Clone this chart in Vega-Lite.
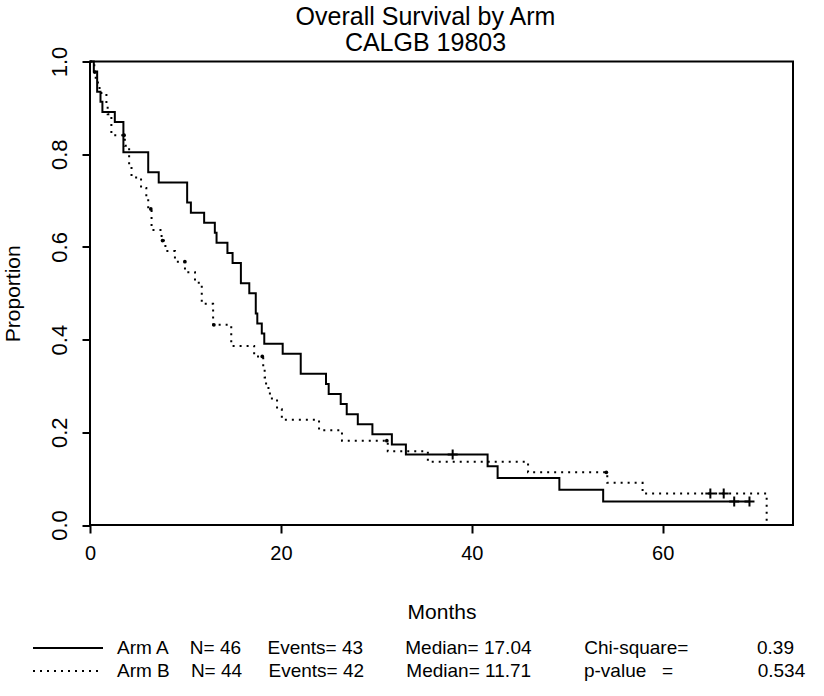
{
  "$schema": "https://vega.github.io/schema/vega-lite/v6.json",
  "width": 703,
  "height": 463.5,
  "autosize": {"type": "none"},
  "padding": {"left": 90, "top": 61.5, "right": 31, "bottom": 171},
  "background": "white",
  "config": {"view": {"stroke": "black", "strokeWidth": 2}, "font": "Liberation Sans"},
  "title": {
    "text": ["Overall Survival by Arm", "CALGB 19803"],
    "font": "Liberation Sans",
    "fontSize": 25,
    "fontWeight": "normal",
    "color": "black",
    "lineHeight": 26.7,
    "anchor": "middle",
    "baseline": "bottom",
    "offset": -35,
    "dx": -16
  },
  "datasets": {
    "curve": [
      {"arm": "Arm A", "t": 0, "s": 1},
      {"arm": "Arm A", "t": 0.4, "s": 0.9783},
      {"arm": "Arm A", "t": 0.75, "s": 0.9348},
      {"arm": "Arm A", "t": 1.1, "s": 0.913},
      {"arm": "Arm A", "t": 1.3, "s": 0.8913},
      {"arm": "Arm A", "t": 2.6, "s": 0.8696},
      {"arm": "Arm A", "t": 3.5, "s": 0.8043},
      {"arm": "Arm A", "t": 6.1, "s": 0.7609},
      {"arm": "Arm A", "t": 7.2, "s": 0.7391},
      {"arm": "Arm A", "t": 10.18, "s": 0.6957},
      {"arm": "Arm A", "t": 10.57, "s": 0.6739},
      {"arm": "Arm A", "t": 11.96, "s": 0.6522},
      {"arm": "Arm A", "t": 13.08, "s": 0.6304},
      {"arm": "Arm A", "t": 13.26, "s": 0.6087},
      {"arm": "Arm A", "t": 14.4, "s": 0.587},
      {"arm": "Arm A", "t": 14.94, "s": 0.5652},
      {"arm": "Arm A", "t": 15.81, "s": 0.5217},
      {"arm": "Arm A", "t": 16.69, "s": 0.5},
      {"arm": "Arm A", "t": 17.37, "s": 0.4565},
      {"arm": "Arm A", "t": 17.53, "s": 0.4348},
      {"arm": "Arm A", "t": 18.0, "s": 0.413},
      {"arm": "Arm A", "t": 18.26, "s": 0.3913},
      {"arm": "Arm A", "t": 20.19, "s": 0.3696},
      {"arm": "Arm A", "t": 22.08, "s": 0.3261},
      {"arm": "Arm A", "t": 24.73, "s": 0.3043},
      {"arm": "Arm A", "t": 25.01, "s": 0.2826},
      {"arm": "Arm A", "t": 26.27, "s": 0.2609},
      {"arm": "Arm A", "t": 26.9, "s": 0.2391},
      {"arm": "Arm A", "t": 28.06, "s": 0.2174},
      {"arm": "Arm A", "t": 29.59, "s": 0.1957},
      {"arm": "Arm A", "t": 31.63, "s": 0.1739},
      {"arm": "Arm A", "t": 33.1, "s": 0.1522},
      {"arm": "Arm A", "t": 38.0, "s": 0.1522},
      {"arm": "Arm A", "t": 41.66, "s": 0.1268},
      {"arm": "Arm A", "t": 42.71, "s": 0.1014},
      {"arm": "Arm A", "t": 49.18, "s": 0.0761},
      {"arm": "Arm A", "t": 53.77, "s": 0.0507},
      {"arm": "Arm A", "t": 69.1, "s": 0.0507},
      {"arm": "Arm B", "t": 0, "s": 1},
      {"arm": "Arm B", "t": 0.45, "s": 0.9773},
      {"arm": "Arm B", "t": 0.6, "s": 0.9545},
      {"arm": "Arm B", "t": 1.0, "s": 0.9318},
      {"arm": "Arm B", "t": 1.72, "s": 0.9091},
      {"arm": "Arm B", "t": 1.85, "s": 0.8864},
      {"arm": "Arm B", "t": 2.24, "s": 0.8409},
      {"arm": "Arm B", "t": 3.65, "s": 0.8182},
      {"arm": "Arm B", "t": 4.1, "s": 0.7727},
      {"arm": "Arm B", "t": 4.35, "s": 0.75},
      {"arm": "Arm B", "t": 5.35, "s": 0.7273},
      {"arm": "Arm B", "t": 5.9, "s": 0.7045},
      {"arm": "Arm B", "t": 6.1, "s": 0.6818},
      {"arm": "Arm B", "t": 6.45, "s": 0.6364},
      {"arm": "Arm B", "t": 7.5, "s": 0.6136},
      {"arm": "Arm B", "t": 7.9, "s": 0.5909},
      {"arm": "Arm B", "t": 8.9, "s": 0.5682},
      {"arm": "Arm B", "t": 9.95, "s": 0.5455},
      {"arm": "Arm B", "t": 11.0, "s": 0.5227},
      {"arm": "Arm B", "t": 11.71, "s": 0.4773},
      {"arm": "Arm B", "t": 12.9, "s": 0.4318},
      {"arm": "Arm B", "t": 14.8, "s": 0.3864},
      {"arm": "Arm B", "t": 17.2, "s": 0.3636},
      {"arm": "Arm B", "t": 18.15, "s": 0.3409},
      {"arm": "Arm B", "t": 18.3, "s": 0.3182},
      {"arm": "Arm B", "t": 18.45, "s": 0.2955},
      {"arm": "Arm B", "t": 18.85, "s": 0.2727},
      {"arm": "Arm B", "t": 19.6, "s": 0.25},
      {"arm": "Arm B", "t": 20.1, "s": 0.2273},
      {"arm": "Arm B", "t": 24.0, "s": 0.2045},
      {"arm": "Arm B", "t": 26.4, "s": 0.1818},
      {"arm": "Arm B", "t": 31.2, "s": 0.1591},
      {"arm": "Arm B", "t": 35.4, "s": 0.1364},
      {"arm": "Arm B", "t": 45.9, "s": 0.1136},
      {"arm": "Arm B", "t": 54.2, "s": 0.0909},
      {"arm": "Arm B", "t": 57.9, "s": 0.0682},
      {"arm": "Arm B", "t": 70.9, "s": 0}
    ],
    "censor": [
      {"arm": "Arm A", "t": 38.0, "s": 0.1522},
      {"arm": "Arm A", "t": 67.5, "s": 0.0507},
      {"arm": "Arm A", "t": 69.1, "s": 0.0507},
      {"arm": "Arm B", "t": 65.0, "s": 0.0682},
      {"arm": "Arm B", "t": 66.4, "s": 0.0682}
    ],
    "dot": [
      {"arm": "Arm B", "t": 0.5, "s": 0.9773},
      {"arm": "Arm B", "t": 3.57, "s": 0.8409},
      {"arm": "Arm B", "t": 6.37, "s": 0.6818},
      {"arm": "Arm B", "t": 7.6, "s": 0.6136},
      {"arm": "Arm B", "t": 9.94, "s": 0.5682},
      {"arm": "Arm B", "t": 12.98, "s": 0.4318},
      {"arm": "Arm B", "t": 18.05, "s": 0.3636},
      {"arm": "Arm B", "t": 31.1, "s": 0.1818},
      {"arm": "Arm B", "t": 54.1, "s": 0.1136}
    ]
  },
  "layer": [
    {
      "data": {"name": "curve"},
      "mark": {"type": "line", "interpolate": "step-after", "color": "black", "strokeWidth": 2},
      "encoding": {
        "x": {
          "field": "t", "type": "quantitative",
          "scale": {"domain": [0, 73.66], "nice": false, "zero": false},
          "axis": {
            "values": [0, 20, 40, 60], "domain": false, "grid": false,
            "tickColor": "black", "tickSize": 8, "tickWidth": 2,
            "labelFont": "Liberation Sans", "labelFontSize": 20, "labelColor": "black",
            "labelPadding": 10, "labelFlush": false,
            "title": "Months", "titleFont": "Liberation Sans", "titleFontSize": 21,
            "titleFontWeight": "normal", "titleColor": "black",
            "titleX": 351.5, "titleY": 93, "titleAlign": "center", "titleBaseline": "alphabetic"
          }
        },
        "y": {
          "field": "s", "type": "quantitative",
          "scale": {"domain": [0, 1], "nice": false, "zero": false},
          "axis": {
            "values": [0, 0.2, 0.4, 0.6, 0.8, 1.0], "format": ".1f", "domain": false, "grid": false,
            "tickColor": "black", "tickSize": 8, "tickWidth": 2,
            "labelFont": "Liberation Sans", "labelFontSize": 22, "labelColor": "black",
            "labelAngle": 270, "labelAlign": "center", "labelBaseline": "alphabetic",
            "labelPadding": 16, "labelFlush": false,
            "title": "Proportion", "titleFont": "Liberation Sans", "titleFontSize": 21,
            "titleFontWeight": "normal", "titleColor": "black", "titleAngle": 270,
            "titleX": -77, "titleY": 231.75, "titleAlign": "center", "titleBaseline": "middle"
          }
        },
        "strokeDash": {
          "field": "arm", "type": "nominal",
          "scale": {"domain": ["Arm A", "Arm B"], "range": [[1, 0], [2, 5]]},
          "legend": {
            "orient": "none", "legendX": -31.5, "legendY": 577,
            "title": null, "padding": 0,
            "symbolType": "M-10,0H10", "symbolSize": 49, "symbolStrokeWidth": 2,
            "symbolStrokeColor": "black", "symbolFillColor": "transparent",
            "labelOffset": 39.5, "labelFont": "Liberation Sans", "labelFontSize": 19,
            "labelColor": "black", "labelLimit": 2000, "rowPadding": 3,
            "labelExpr": "datum.label == 'Arm A' ? 'Arm A\u00a0\u00a0\u00a0\u00a0N= 46\u00a0\u00a0\u00a0\u00a0\u00a0Events= 43\u00a0\u00a0\u00a0\u00a0\u00a0\u00a0\u00a0\u00a0Median= 17.04\u00a0\u00a0\u00a0\u00a0\u00a0\u00a0\u00a0\u00a0\u00a0\u00a0Chi-square=\u00a0\u00a0\u00a0\u00a0\u00a0\u00a0\u00a0\u00a0\u00a0\u00a0\u00a0\u00a0\u00a00.39' : 'Arm B\u00a0\u00a0\u00a0\u00a0N= 44\u00a0\u00a0\u00a0\u00a0\u00a0Events= 42\u00a0\u00a0\u00a0\u00a0\u00a0\u00a0\u00a0\u00a0Median= 11.71\u00a0\u00a0\u00a0\u00a0\u00a0\u00a0\u00a0\u00a0\u00a0\u00a0p-value\u00a0\u00a0\u00a0=\u00a0\u00a0\u00a0\u00a0\u00a0\u00a0\u00a0\u00a0\u00a0\u00a0\u00a0\u00a0\u00a0\u00a0\u00a0\u00a00.534'"
          }
        }
      }
    },
    {
      "data": {"name": "censor"},
      "mark": {"type": "point", "shape": "M-1,0H1M0,-1V1", "size": 100, "strokeWidth": 2, "filled": false, "color": "black", "opacity": 1},
      "encoding": {
        "x": {"field": "t", "type": "quantitative"},
        "y": {"field": "s", "type": "quantitative"}
      }
    },
    {
      "data": {"name": "dot"},
      "mark": {"type": "point", "shape": "circle", "size": 14, "filled": true, "color": "black", "opacity": 1},
      "encoding": {
        "x": {"field": "t", "type": "quantitative"},
        "y": {"field": "s", "type": "quantitative"}
      }
    }
  ]
}
